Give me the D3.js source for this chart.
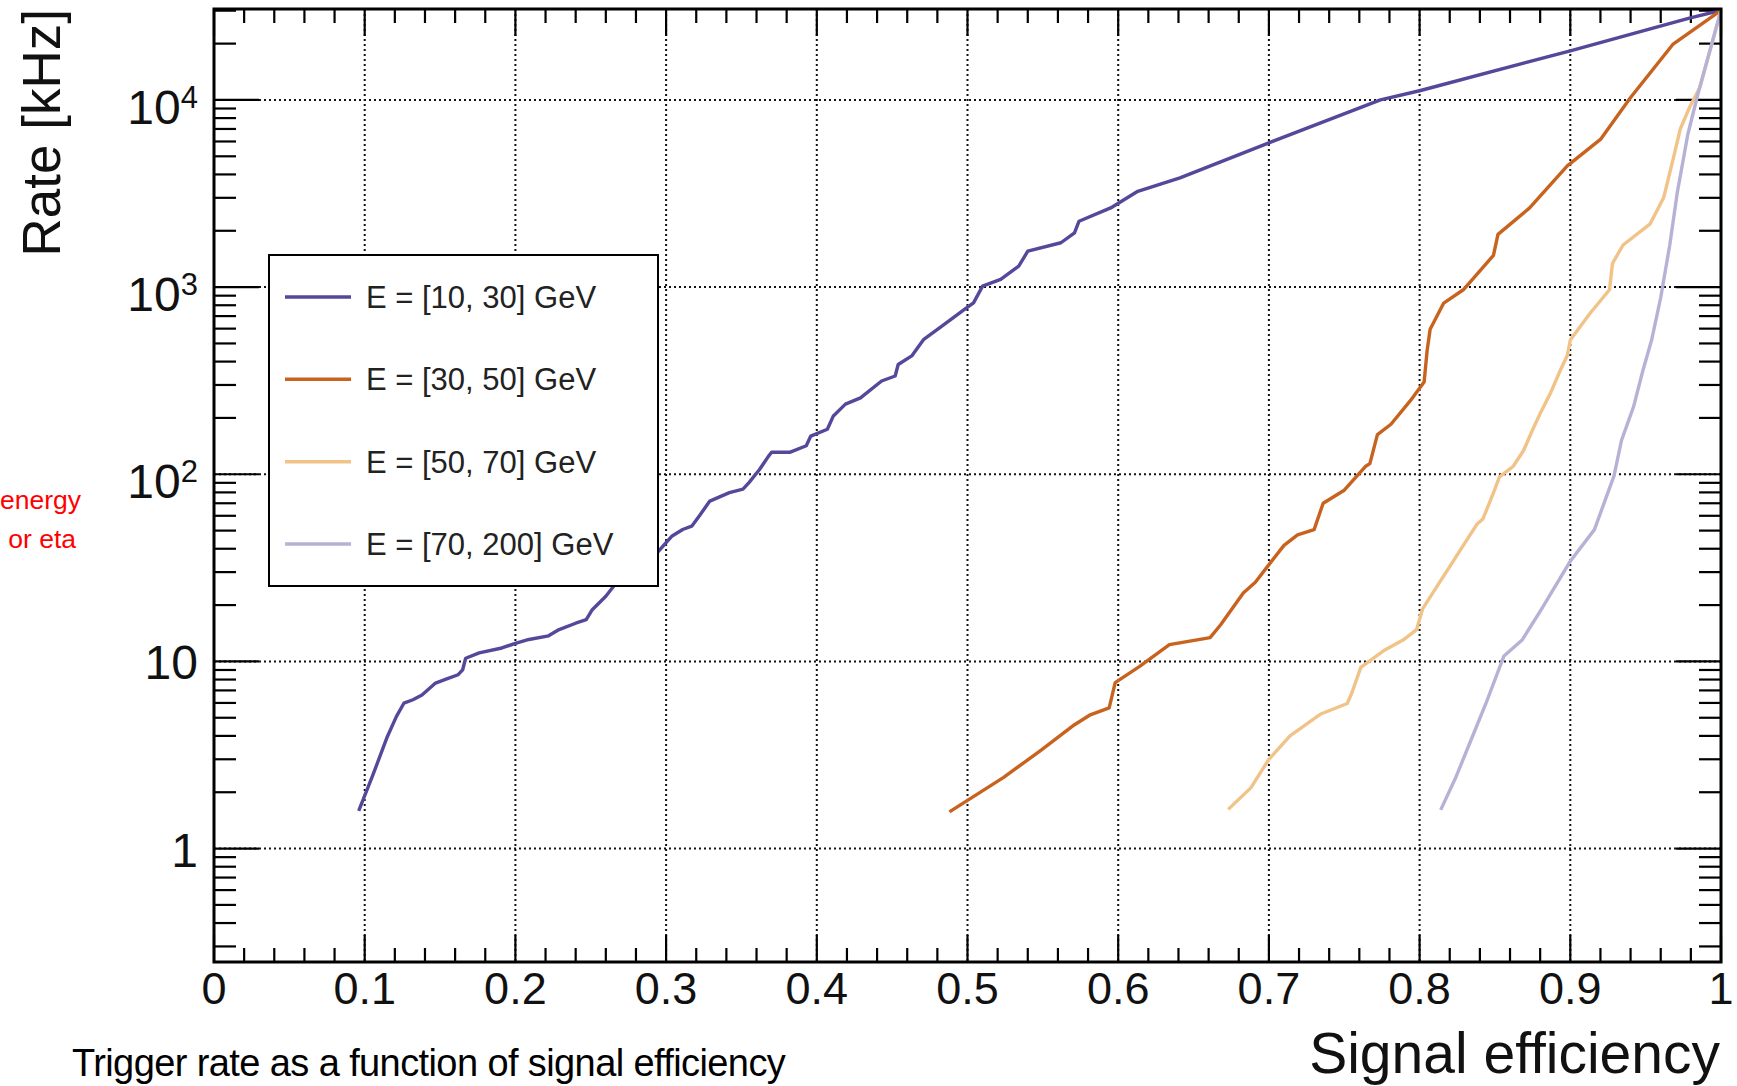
<!DOCTYPE html>
<html><head><meta charset="utf-8">
<script src="https://cdn.jsdelivr.net/npm/d3@7"></script>
<style>body{margin:0;background:#fff;overflow:hidden}svg{display:block}</style>
</head><body>
<svg id="c" width="1737" height="1086"></svg>
<script>
// ---------- data ----------
const xTickValues = [0, 0.1, 0.2, 0.3, 0.4, 0.5, 0.6, 0.7, 0.8, 0.9, 1];
const xTickLabels = ["0", "0.1", "0.2", "0.3", "0.4", "0.5", "0.6", "0.7", "0.8", "0.9", "1"];
const yTickValues = [1, 10, 100, 1000, 10000];
const yTickBase = ["1", "10", "10", "10", "10"];
const yTickExp = ["", "", "2", "3", "4"];
const seriesNames = ["E = [10, 30] GeV", "E = [30, 50] GeV", "E = [50, 70] GeV", "E = [70, 200] GeV"];
const xTitle = "Signal efficiency";
const yTitle = "Rate [kHz]";
const noteLines = ["energy", "or eta"];
const caption = "Trigger rate as a function of signal efficiency";

// [signal efficiency, rate kHz]
const rate10to30 = [[0.096,1.59],[0.105,2.42],[0.115,3.96],[0.121,5.07],[0.126,5.98],[0.132,6.24],[0.138,6.62],
  [0.147,7.66],[0.154,8.04],[0.162,8.49],[0.165,9.02],[0.167,10.4],[0.176,11.1],[0.191,11.8],[0.2,12.5],
  [0.209,13.1],[0.222,13.7],[0.229,14.8],[0.240,16.0],[0.247,16.7],[0.251,18.9],[0.260,22.3],[0.267,26.3],
  [0.275,31.0],[0.284,36.6],[0.294,38.0],[0.300,43.1],[0.304,46.8],[0.311,50.7],[0.317,52.8],[0.322,59.8],
  [0.329,71.9],[0.342,79.8],[0.351,83.2],[0.355,90.2],[0.362,106],[0.368,125],[0.370,131],[0.382,131],
  [0.393,142],[0.396,160],[0.407,174],[0.411,205],[0.419,237],[0.429,256],[0.443,315],[0.452,335],
  [0.454,386],[0.463,429],[0.471,526],[0.483,619],[0.498,760],[0.504,824],[0.510,1012],[0.522,1099],
  [0.534,1294],[0.540,1556],[0.562,1726],[0.571,1950],[0.574,2249],[0.595,2649],[0.613,3251],[0.641,3837],
  [0.7,5900],[0.774,10000],[0.8,11200],[0.9,18300],[0.979,27400],[1.0,30100]];
const rate30to50 = [[0.488,1.57],[0.524,2.40],[0.548,3.32],[0.571,4.59],[0.581,5.16],[0.594,5.65],[0.598,7.71],
  [0.614,9.38],[0.634,12.3],[0.661,13.4],[0.668,15.7],[0.683,23.2],[0.691,26.5],[0.699,32.1],[0.710,41.7],
  [0.719,47.4],[0.730,50.6],[0.736,70.0],[0.750,82.2],[0.764,110],[0.767,114],[0.772,163],[0.781,185],
  [0.794,248],[0.798,274],[0.803,311],[0.805,459],[0.807,596],[0.816,822],[0.829,968],[0.849,1476],
  [0.852,1914],[0.873,2649],[0.898,4446],[0.920,6152],[0.940,10300],[0.968,19800],[1.0,30100]];
const rate50to70 = [[0.673,1.62],[0.688,2.11],[0.700,3.0],[0.714,4.0],[0.734,5.22],[0.752,5.96],[0.755,6.78],
  [0.761,9.3],[0.776,11.4],[0.789,13.0],[0.798,14.8],[0.802,19.1],[0.811,24.8],[0.820,32.1],[0.829,41.7],
  [0.838,54.0],[0.842,57.7],[0.849,79.6],[0.853,96.8],[0.862,110],[0.869,134],[0.875,173],[0.880,211],
  [0.887,273],[0.893,354],[0.898,431],[0.900,522],[0.913,723],[0.926,968],[0.928,1340],[0.935,1679],
  [0.953,2178],[0.962,3013],[0.968,4743],[0.973,7000],[0.979,9080],[0.986,11700],[1.0,30100]];
const rate70to200 = [[0.814,1.61],[0.824,2.40],[0.834,3.78],[0.844,5.96],[0.856,10.7],[0.868,13.0],[0.881,19.1],
  [0.900,34.3],[0.916,50.6],[0.929,98],[0.934,152],[0.942,230],[0.948,354],[0.954,523],[0.960,880],
  [0.966,1679],[0.971,3200],[0.978,6561],[0.985,11000],[1.0,30100]];

const seriesData = [rate10to30, rate30to50, rate50to70, rate70to200];

// ---------- styles ----------
const colors = ["#56479a", "#c8631f", "#f1c388", "#b6b2d6"];
const FONT = "'Liberation Sans', Arial, Helvetica, sans-serif";

// ---------- layout ----------
const svg = d3.select("#c");
const X0 = 214, X1 = 1721, Y0 = 9, Y1 = 962;
const x = d3.scaleLinear().domain([0, 1]).range([X0, X1]);
const y = d3.scaleLog().domain([0.2477, 30620]).range([Y1, Y0]);

// grid
const grid = svg.append("g").attr("stroke", "#111").attr("stroke-width", 2)
  .attr("stroke-dasharray", "2,3");
xTickValues.filter(v => v > 0 && v < 1).forEach(v => {
  grid.append("line").attr("x1", x(v)).attr("x2", x(v)).attr("y1", Y0).attr("y2", Y1);
});
yTickValues.forEach(v => {
  grid.append("line").attr("x1", X0).attr("x2", X1).attr("y1", y(v)).attr("y2", y(v));
});

// ticks
const ticks = svg.append("g").attr("stroke", "#000").attr("stroke-width", 2.2);
const minorX = d3.range(0, 51).map(i => i / 50).filter(v => Math.abs(v * 10 - Math.round(v * 10)) > 1e-6);
xTickValues.forEach(v => {
  ticks.append("line").attr("x1", x(v)).attr("x2", x(v)).attr("y1", Y1).attr("y2", Y1 - 27);
  ticks.append("line").attr("x1", x(v)).attr("x2", x(v)).attr("y1", Y0).attr("y2", Y0 + 27);
});
minorX.forEach(v => {
  ticks.append("line").attr("x1", x(v)).attr("x2", x(v)).attr("y1", Y1).attr("y2", Y1 - 14);
  ticks.append("line").attr("x1", x(v)).attr("x2", x(v)).attr("y1", Y0).attr("y2", Y0 + 14);
});
const [ylo, yhi] = y.domain();
const minorY = [];
for (let k = -1; k <= 4; k++) for (let m = 2; m <= 9; m++) {
  const v = m * Math.pow(10, k);
  if (v > ylo && v < yhi) minorY.push(v);
}
yTickValues.forEach(v => {
  ticks.append("line").attr("x1", X0).attr("x2", X0 + 45).attr("y1", y(v)).attr("y2", y(v));
  ticks.append("line").attr("x1", X1).attr("x2", X1 - 45).attr("y1", y(v)).attr("y2", y(v));
});
minorY.forEach(v => {
  ticks.append("line").attr("x1", X0).attr("x2", X0 + 22).attr("y1", y(v)).attr("y2", y(v));
  ticks.append("line").attr("x1", X1).attr("x2", X1 - 22).attr("y1", y(v)).attr("y2", y(v));
});

// curves
const line = d3.line().x(d => x(d[0])).y(d => y(d[1]));
seriesData.forEach((s, i) => {
  svg.append("path").datum(s).attr("d", line).attr("fill", "none")
    .attr("stroke", colors[i]).attr("stroke-width", 3.4).attr("stroke-linejoin", "round");
});

// frame
svg.append("rect").attr("x", X0).attr("y", Y0).attr("width", X1 - X0).attr("height", Y1 - Y0)
  .attr("fill", "none").attr("stroke", "#000").attr("stroke-width", 3);

// x tick labels
svg.append("g").selectAll("text").data(xTickValues).join("text")
  .attr("x", d => x(d)).attr("y", 1004).attr("text-anchor", "middle")
  .attr("font-family", FONT).attr("font-size", 45).attr("fill", "#111")
  .text((d, i) => xTickLabels[i]);

// y tick labels
yTickValues.forEach((v, i) => {
  const t = svg.append("text").attr("x", 198).attr("text-anchor", "end")
    .attr("font-family", FONT).attr("font-size", 48).attr("fill", "#111");
  if (yTickExp[i]) {
    t.attr("y", y(v) + 24);
    t.append("tspan").text(yTickBase[i]);
    t.append("tspan").attr("font-size", 31).attr("dy", -16).text(yTickExp[i]);
  } else {
    t.attr("y", y(v) + 18).text(yTickBase[i]);
  }
});

// axis titles
svg.append("text").attr("x", 1720).attr("y", 1073).attr("text-anchor", "end")
  .attr("font-family", FONT).attr("font-size", 57).attr("fill", "#111").text(xTitle);
svg.append("text").attr("transform", "translate(60,9) rotate(-90)").attr("text-anchor", "end")
  .attr("font-family", FONT).attr("font-size", 53).attr("fill", "#111").text(yTitle);

// legend
const L = svg.append("g");
L.append("rect").attr("x", 269).attr("y", 255).attr("width", 389).attr("height", 331)
  .attr("fill", "#fff").attr("stroke", "#000").attr("stroke-width", 2);
const legendY = d3.scalePoint().domain(seriesNames).range([297, 544]);
seriesNames.forEach((n, i) => {
  const ly = legendY(n);
  L.append("line").attr("x1", 285).attr("x2", 351).attr("y1", ly).attr("y2", ly)
    .attr("stroke", colors[i]).attr("stroke-width", 3.5);
  L.append("text").attr("x", 366).attr("y", ly + 11).attr("font-family", FONT)
    .attr("font-size", 31).attr("fill", "#222").text(n);
});

// side notes
noteLines.forEach((t, i) => {
  svg.append("text").attr("x", i === 0 ? 81 : 76).attr("y", 509 + i * 39).attr("text-anchor", "end")
    .attr("font-family", FONT).attr("font-size", 26.5).attr("fill", "#ff0000").text(t);
});
svg.append("text").attr("x", 72).attr("y", 1076).attr("font-family", FONT).attr("font-size", 38)
  .attr("letter-spacing", -0.6).attr("fill", "#000").text(caption);
</script>
</body></html>
